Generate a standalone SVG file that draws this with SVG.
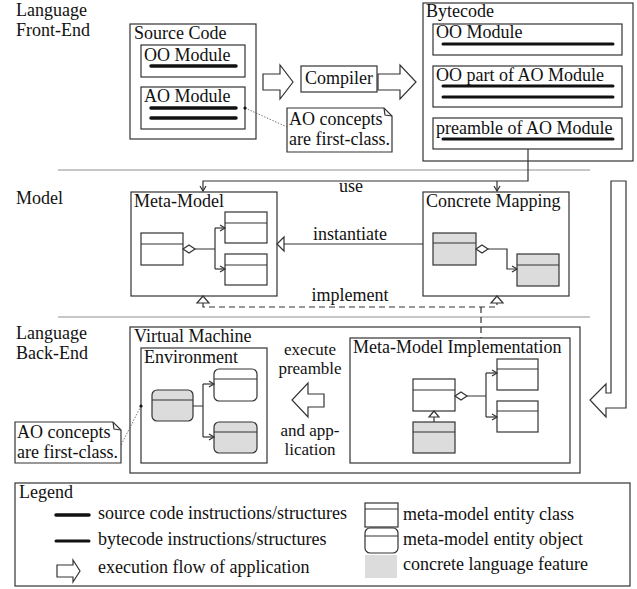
<svg xmlns="http://www.w3.org/2000/svg" width="637" height="589" viewBox="0 0 637 589">
<defs>
<style>
text{font-family:"Liberation Serif","Times New Roman",serif;font-size:18px;fill:#111}
.mid{text-anchor:middle}
.sm{font-size:17px}
.box{fill:#fff;stroke:#333;stroke-width:1.2}
.cls{fill:#fff;stroke:#333;stroke-width:1.2}
.gray{fill:#dcdcdc;stroke:#333;stroke-width:1.2}
.ln{fill:none;stroke:#333;stroke-width:1.2}
.thick{stroke:#111;stroke-width:3.5;stroke-linecap:round}
.thin{stroke:#111;stroke-width:3;stroke-linecap:round}
.sep{stroke:#b5b5b5;stroke-width:1.5}
.dash{fill:none;stroke:#333;stroke-width:1.2;stroke-dasharray:6,4}
.dot{fill:none;stroke:#555;stroke-width:0.8;stroke-dasharray:1.5,1.5}
.harrow{fill:#fff;stroke:#333;stroke-width:1.2;stroke-linejoin:miter}
</style>
<marker id="open" markerWidth="8" markerHeight="8" refX="6" refY="4" orient="auto" markerUnits="userSpaceOnUse">
<path d="M1,1 L6,4 L1,7" fill="none" stroke="#333" stroke-width="1.2"/>
</marker>
</defs>
<rect width="637" height="589" fill="#fff"/>

<g id="labels">
<text x="16" y="16">Language</text>
<text x="16" y="36">Front-End</text>
<text x="16" y="204">Model</text>
<text x="16" y="339">Language</text>
<text x="16" y="359">Back-End</text>
<line class="sep" x1="58" y1="170" x2="590" y2="170"/>
<line class="sep" x1="58" y1="317" x2="590" y2="317"/>
</g>

<g id="source-code">
<rect class="box" x="130" y="24" width="126" height="115"/>
<text x="134" y="39">Source Code</text>
<rect class="box" x="141" y="45" width="104" height="32"/>
<text x="144" y="61">OO Module</text>
<line class="thick" x1="151" y1="66" x2="236" y2="66"/>
<rect class="box" x="141" y="87" width="104" height="42"/>
<text x="144" y="102">AO Module</text>
<line class="thick" x1="151" y1="108" x2="236" y2="108"/>
<line class="thick" x1="151" y1="118" x2="236" y2="118"/>
</g>

<g id="note-top">
<polygon class="box" points="287,108 384,108 392,116 392,152 287,152"/>
<polyline class="ln" points="384,108 385,115 392,116"/>
<text x="289" y="125">AO concepts</text>
<text x="289" y="145">are first-class.</text>
</g>

<g id="arrow-src-compiler">
<polygon class="harrow" points="263,74 280,74 280,65 293,82 280,99 280,90 263,90"/>
</g>

<g id="compiler">
<rect class="box" x="301" y="66" width="76" height="26"/>
<text x="305" y="84">Compiler</text>
</g>

<g id="arrow-compiler-bytecode">
<polygon class="harrow" points="378,74 400,74 400,65 416,82 400,99 400,90 378,90"/>
</g>

<g id="bytecode">
<rect class="box" x="423" y="3" width="210" height="158"/>
<text x="426" y="17">Bytecode</text>
<rect class="box" x="433" y="24" width="189" height="31"/>
<text x="436" y="38">OO Module</text>
<line class="thin" x1="443" y1="44" x2="613" y2="44"/>
<rect class="box" x="433" y="66" width="189" height="41"/>
<text x="436" y="81">OO part of AO Module</text>
<line class="thin" x1="443" y1="86" x2="613" y2="86"/>
<line class="thin" x1="443" y1="97" x2="613" y2="97"/>
<rect class="box" x="433" y="118" width="189" height="31"/>
<text x="436" y="134">preamble of AO Module</text>
<line class="thin" x1="443" y1="139" x2="613" y2="139"/>
</g>

<g id="meta-model">
<rect class="box" x="131" y="192" width="146" height="104"/>
<text x="134" y="207">Meta-Model</text>
<rect class="cls" x="141" y="233" width="42" height="32"/>
<line class="ln" x1="141" y1="244" x2="183" y2="244"/>
<rect class="cls" x="225" y="212" width="42" height="31"/>
<line class="ln" x1="225" y1="223" x2="267" y2="223"/>
<rect class="cls" x="225" y="254" width="42" height="31"/>
<line class="ln" x1="225" y1="265" x2="267" y2="265"/>
<polygon class="cls" points="183,249 189,245 195,249 189,253"/>
<path class="ln" d="M195,249 H215 M215,228 V269" />
<path class="ln" d="M215,228 H225" marker-end="url(#open)"/>
<path class="ln" d="M215,269 H225" marker-end="url(#open)"/>
</g>

<g id="concrete-mapping">
<rect class="box" x="423" y="192" width="146" height="104"/>
<text x="426" y="207">Concrete Mapping</text>
<rect class="gray" x="433" y="233" width="43" height="32"/>
<line class="ln" x1="433" y1="243" x2="476" y2="243"/>
<rect class="gray" x="517" y="254" width="42" height="32"/>
<line class="ln" x1="517" y1="265" x2="559" y2="265"/>
<polygon class="cls" points="476,249 482,245 488,249 482,253"/>
<path class="ln" d="M488,249 H507 V269 H517" marker-end="url(#open)"/>
</g>

<g id="virtual-machine">
<rect class="box" x="130" y="327" width="450" height="146"/>
<text x="134" y="342">Virtual Machine</text>
<text class="mid sm" x="310" y="355">execute</text>
<text class="mid sm" x="310" y="374">preamble</text>
<polygon class="harrow" points="324,394 308,394 308,383 292,400 308,417 308,407 324,407"/>
<text class="mid sm" x="310" y="436">and app-</text>
<text class="mid sm" x="310" y="455">lication</text>
</g>

<g id="environment">
<rect class="box" x="141" y="348" width="126" height="115"/>
<text x="144" y="363">Environment</text>
<rect class="gray" x="152" y="390" width="41" height="31" rx="5"/>
<line class="ln" x1="152" y1="400" x2="193" y2="400"/>
<rect class="cls" x="214" y="369" width="43" height="32" rx="5"/>
<line class="ln" x1="214" y1="379" x2="257" y2="379"/>
<rect class="gray" x="214" y="422" width="43" height="31" rx="5"/>
<line class="ln" x1="214" y1="432" x2="257" y2="432"/>
<path class="ln" d="M193,406 H203 M203,384 V437"/>
<path class="ln" d="M203,384 H214" marker-end="url(#open)"/>
<path class="ln" d="M203,437 H214" marker-end="url(#open)"/>
</g>

<g id="meta-model-implementation">
<rect class="box" x="350" y="338" width="220" height="125"/>
<text x="353" y="353">Meta-Model Implementation</text>
<rect class="cls" x="413" y="379" width="42" height="32"/>
<line class="ln" x1="413" y1="390" x2="455" y2="390"/>
<rect class="gray" x="413" y="422" width="42" height="31"/>
<line class="ln" x1="413" y1="432" x2="455" y2="432"/>
<rect class="cls" x="497" y="359" width="41" height="31"/>
<line class="ln" x1="497" y1="369" x2="538" y2="369"/>
<rect class="cls" x="497" y="401" width="41" height="31"/>
<line class="ln" x1="497" y1="411" x2="538" y2="411"/>
<polygon class="cls" points="455,396 461,392 467,396 461,400"/>
<path class="ln" d="M467,396 H486 M486,373 V417"/>
<path class="ln" d="M486,373 H497" marker-end="url(#open)"/>
<path class="ln" d="M486,417 H497" marker-end="url(#open)"/>
<line class="ln" x1="434" y1="417" x2="434" y2="422"/>
<polygon class="cls" points="434,411 429,417 439,417"/>
</g>

<g id="note-bottom">
<polygon class="box" points="15,422 113,422 121,430 121,463 15,463"/>
<polyline class="ln" points="113,422 114,429 121,430"/>
<text x="17" y="438">AO concepts</text>
<text x="17" y="458">are first-class.</text>
</g>

<g id="flow-arrow">
<polygon class="harrow" points="611,181 626,181 626,408 606,408 606,417 590,400 606,384 606,393 611,393"/>
</g>

<g id="connectors">
<path class="ln" d="M528,149 V181 H203 V191" marker-end="url(#open)"/>
<path class="ln" d="M497,181 V191" marker-end="url(#open)"/>
<text class="mid" x="351" y="192">use</text>
<line class="ln" x1="423" y1="244" x2="284" y2="244"/>
<polygon class="cls" points="277,244 284,237 284,251"/>
<text class="mid" x="350" y="240">instantiate</text>
<path class="dash" d="M203,303 V307 H497 V303"/>
<path class="dash" d="M481,307 V338"/>
<polygon class="cls" points="203,296 197,303 209,303"/>
<polygon class="cls" points="497,296 491,303 503,303"/>
<text class="mid" x="350" y="301">implement</text>
<line class="dot" x1="245" y1="108" x2="287" y2="127"/>
<circle cx="245" cy="108" r="1.6" fill="#111"/>
<line class="dot" x1="141" y1="406" x2="121" y2="445"/>
<circle cx="141" cy="406" r="1.6" fill="#111"/>
</g>

<g id="legend">
<rect class="box" x="15" y="483" width="615" height="103"/>
<text x="19" y="498">Legend</text>
<line class="thick" x1="56" y1="515" x2="89" y2="515"/>
<text x="98" y="519">source code instructions/structures</text>
<line class="thin" x1="56" y1="541" x2="89" y2="541"/>
<text x="98" y="545">bytecode instructions/structures</text>
<polygon class="harrow" points="57,565 73,565 73,560 80,571 73,582 73,577 57,577"/>
<text x="98" y="573">execution flow of application</text>
<rect class="cls" x="365" y="503" width="33" height="24"/>
<line class="ln" x1="365" y1="509" x2="398" y2="509"/>
<text x="403" y="520">meta-model entity class</text>
<rect class="cls" x="365" y="528" width="33" height="25" rx="5"/>
<line class="ln" x1="365" y1="536" x2="398" y2="536"/>
<text x="403" y="545">meta-model entity object</text>
<rect x="365" y="555" width="32" height="23" fill="#dcdcdc"/>
<text x="403" y="570">concrete language feature</text>
</g>
</svg>
